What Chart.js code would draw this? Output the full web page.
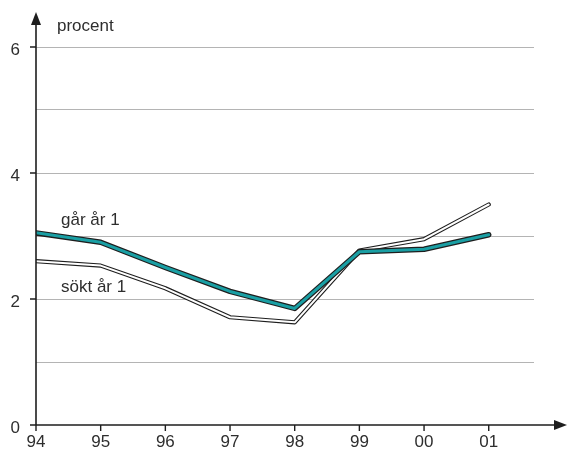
<!DOCTYPE html>
<html>
<head>
<meta charset="utf-8">
<style>
  html, body { margin: 0; padding: 0; background: #fff; }
  #wrap { width: 570px; height: 459px; position: relative; }
</style>
<script src="https://cdn.jsdelivr.net/npm/chart.js@4.4.1/dist/chart.umd.min.js"></script>
</head>
<body>
<div id="wrap"><canvas id="chart"></canvas></div>
<script>
  const years = ['94', '95', '96', '97', '98', '99', '00', '01'];
  const garAr1 = [3.05, 2.90, 2.50, 2.12, 1.85, 2.75, 2.79, 3.02];
  const soktAr1 = [2.60, 2.53, 2.17, 1.71, 1.63, 2.77, 2.95, 3.50];
  const yTickLabels = [0, 2, 4, 6];

  const teal = '#1a9fa4';
  const ink = '#1e1e1e';
  const textColor = '#2e2e2e';
  const font = { family: '"Liberation Sans", Arial, sans-serif', size: 17 };

  function toPoints(values) {
    return values.map((v, i) => ({ x: i, y: v }));
  }

  const axesPlugin = {
    id: 'axes',
    afterDatasetsDraw(chart) {
      const { ctx, chartArea, scales } = chart;
      const x0 = chartArea.left;
      const y0 = scales.y.getPixelForValue(0);
      ctx.save();
      ctx.strokeStyle = ink;
      ctx.fillStyle = ink;
      ctx.lineWidth = 1.6;

      // axis lines
      ctx.beginPath();
      ctx.moveTo(x0, y0);
      ctx.lineTo(x0, 20);
      ctx.moveTo(x0, y0);
      ctx.lineTo(558, y0);
      ctx.stroke();

      // arrow heads
      ctx.beginPath();
      ctx.moveTo(x0, 12);
      ctx.lineTo(x0 - 5, 25);
      ctx.lineTo(x0 + 5, 25);
      ctx.closePath();
      ctx.fill();
      ctx.beginPath();
      ctx.moveTo(567, y0);
      ctx.lineTo(554, y0 - 5);
      ctx.lineTo(554, y0 + 5);
      ctx.closePath();
      ctx.fill();

      // tick marks
      ctx.lineWidth = 1.4;
      ctx.beginPath();
      yTickLabels.forEach((v) => {
        const py = scales.y.getPixelForValue(v);
        ctx.moveTo(x0 - 6, py);
        ctx.lineTo(x0, py);
      });
      years.forEach((_, i) => {
        const px = scales.x.getPixelForValue(i);
        ctx.moveTo(px, y0);
        ctx.lineTo(px, y0 + 6);
      });
      ctx.stroke();

      // text labels
      ctx.font = `${font.size}px ${font.family}`;
      ctx.fillStyle = textColor;
      ctx.textBaseline = 'alphabetic';
      ctx.textAlign = 'left';
      ctx.fillText('procent', x0 + 21, 31);
      ctx.fillText('går år 1', x0 + 25, 225);
      ctx.fillText('sökt år 1', x0 + 25, 292);
      ctx.restore();
    },
  };

  const lineBase = {
    pointRadius: 0,
    tension: 0,
    fill: false,
    borderCapStyle: 'round',
    borderJoinStyle: 'round',
  };

  new Chart(document.getElementById('chart'), {
    type: 'line',
    data: {
      datasets: [
        { ...lineBase, label: 'går år 1', data: toPoints(garAr1), borderColor: teal, borderWidth: 3, order: 0 },
        { ...lineBase, label: 'går år 1 kant', data: toPoints(garAr1), borderColor: ink, borderWidth: 5.5, order: 1 },
        { ...lineBase, label: 'sökt år 1', data: toPoints(soktAr1), borderColor: '#ffffff', borderWidth: 2, order: 2 },
        { ...lineBase, label: 'sökt år 1 kant', data: toPoints(soktAr1), borderColor: ink, borderWidth: 4.2, order: 3 },
      ],
    },
    options: {
      responsive: true,
      maintainAspectRatio: false,
      animation: false,
      events: [],
      layout: { padding: { top: 47, right: 36, left: 0, bottom: 0 } },
      plugins: { legend: { display: false }, tooltip: { enabled: false } },
      scales: {
        x: {
          type: 'linear',
          min: 0,
          max: 7.7,
          border: { display: false },
          grid: { display: false, drawTicks: false },
          ticks: {
            stepSize: 1,
            includeBounds: false,
            autoSkip: false,
            maxRotation: 0,
            padding: 7,
            color: textColor,
            font,
            callback: (v) => (Number.isInteger(v) && years[v] !== undefined ? years[v] : ''),
          },
          afterFit: (scale) => { scale.height = 34; },
        },
        y: {
          min: 0,
          max: 6,
          border: { display: false },
          grid: {
            color: (c) => (c.tick && c.tick.value === 0 ? 'rgba(0,0,0,0)' : '#b4b4b4'),
            lineWidth: 1,
            drawTicks: false,
          },
          ticks: {
            stepSize: 1,
            padding: 16,
            labelOffset: 3,
            color: textColor,
            font,
            callback: (v) => (yTickLabels.includes(v) ? String(v) : ''),
          },
          afterFit: (scale) => { scale.width = 36; },
        },
      },
    },
    plugins: [axesPlugin],
  });
</script>
</body>
</html>
